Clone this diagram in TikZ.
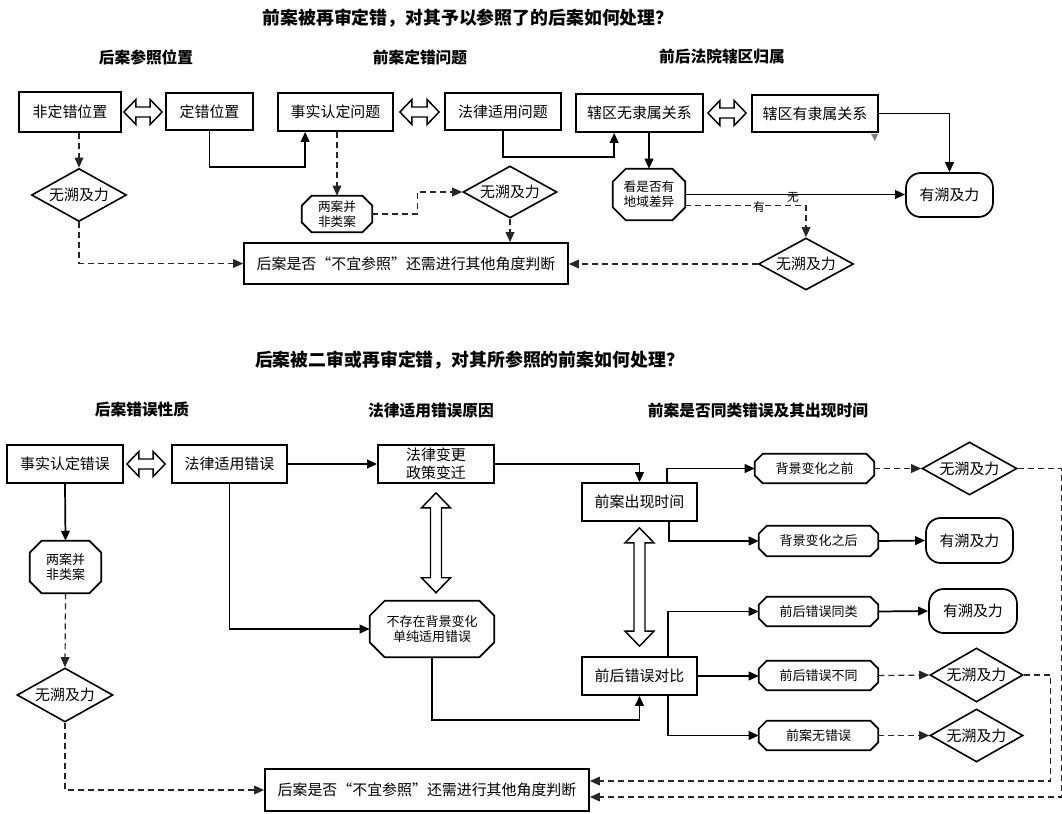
\documentclass[tikz,border=0pt]{standalone}
\usepackage{fontspec}
\setmainfont{Noto Sans CJK SC}
\usetikzlibrary{calc,arrows.meta,shapes.geometric}
\newcommand\octo[2]{\draw[line width=1.3pt] ($(#1.north west)+(#2,0)$) -- ($(#1.north east)+(-#2,0)$) -- ($(#1.north east)+(0,#2)$) -- ($(#1.south east)+(0,-#2)$) -- ($(#1.south east)+(-#2,0)$) -- ($(#1.south west)+(#2,0)$) -- ($(#1.south west)+(0,-#2)$) -- ($(#1.north west)+(0,#2)$) -- cycle;}
\newcommand\hdbl[2]{\draw[dbl] (#1) -- ($(#1)+(12,-12.5)$) -- ($(#1)+(12,-5)$) -- ($(#2)+(-12,-5)$) -- ($(#2)+(-12,-12.5)$) -- (#2) -- ($(#2)+(-12,12.5)$) -- ($(#2)+(-12,5)$) -- ($(#1)+(12,5)$) -- ($(#1)+(12,12.5)$) -- cycle;}
\newcommand\vdbl[2]{\draw[dbl] (#1) -- ($(#1)+(-14.5,15)$) -- ($(#1)+(-5.5,15)$) -- ($(#2)+(-5.5,-15)$) -- ($(#2)+(-14.5,-15)$) -- (#2) -- ($(#2)+(14.5,-15)$) -- ($(#2)+(5.5,-15)$) -- ($(#1)+(5.5,15)$) -- ($(#1)+(14.5,15)$) -- cycle;}
\begin{document}
\begin{tikzpicture}[x=0.75pt,y=-0.75pt,
  every node/.style={font=\fontsize{11.2pt}{13.5pt}\selectfont},
  box/.style={draw, line width=1.3pt, inner sep=0pt, align=center},
  sz/.style 2 args={minimum width=#1*0.75pt, minimum height=#2*0.75pt},
  dia/.style={draw, diamond, aspect=1.8, line width=1.2pt, inner sep=0pt},
  oct/.style={inner sep=0pt, align=center},
  rnd/.style={draw, line width=1.3pt, rounded corners=11pt, inner sep=0pt},
  arr/.style={line width=1.3pt, -{Triangle[length=7.5pt,width=6.5pt]}},
  darr/.style={line width=0.9pt, draw=black!85, dash pattern=on 4.5pt off 3pt, -{Triangle[length=7.5pt,width=6.5pt]}},
  title/.style={font=\fontsize{13.4pt}{16pt}\selectfont\bfseries},
  head/.style={font=\fontsize{11.8pt}{14pt}\selectfont\bfseries},
  small/.style={font=\fontsize{9.5pt}{11.3pt}\selectfont},
  mid/.style={font=\fontsize{9.75pt}{11.5pt}\selectfont},
  tiny/.style={font=\fontsize{8.8pt}{10pt}\selectfont},
  dbl/.style={line width=1.1pt, fill=white, line join=miter}
]
\useasboundingbox (0,0) rectangle (1062,813);

% ---------- top ----------
\node[title] (ti1) at (468,18) {前案被再审定错，对其予以参照了的后案如何处理？};
\node[head] (h1) at (146,57) {后案参照位置};
\node[head] (h2) at (420,57) {前案定错问题};
\node[head] (h3) at (722,57) {前后法院辖区归属};

\node[box,sz={102}{40}] (a1) at (70,112) {非定错位置};
\node[box,sz={87}{37}] (a2) at (209.5,111.5) {定错位置};
\node[box,sz={115}{38}] (a3) at (335.5,112) {事实认定问题};
\node[box,sz={116}{37}] (a4) at (503,111.5) {法律适用问题};
\node[box,sz={127}{38}] (a5) at (639.5,113) {辖区无隶属关系};
\node[box,sz={126}{37}] (a6) at (815,113.5) {辖区有隶属关系};
\fill[gray] (871,134) -- (878,134) -- (875,141) -- cycle;
\node[dia,sz={95}{53}] (d1) at (79,195) {无溯及力};
\node[oct,small,sz={70}{36}] (o1) at (337,214) {两案并\\非类案};
\octo{o1}{10}
\node[dia,sz={94}{52}] (d2) at (510,192) {无溯及力};
\node[box,sz={324}{41}] (r1) at (406,263.5) {后案是否“不宜参照”还需进行其他角度判断};
\node[oct,small,sz={72}{51}] (o2) at (649,194.5) {看是否有\\地域差异};
\octo{o2}{13}
\node[rnd,sz={87}{44}] (e1) at (949.5,195) {有溯及力};
\node[dia,sz={95}{52}] (d3) at (806,264) {无溯及力};

\coordinate (p1) at ($(a1.east)+(2,0)$);
\coordinate (p2) at ($(a2.west|-a1.east)+(-3,0)$);
\hdbl{p1}{p2}
\coordinate (p3) at ($(a3.east)+(6,0)$);
\coordinate (p4) at ($(a4.west|-a3.east)+(-5,0)$);
\hdbl{p3}{p4}
\coordinate (p5) at ($(a5.east)+(4,0)$);
\coordinate (p6) at ($(a6.west|-a5.east)+(-5,0)$);
\hdbl{p5}{p6}

\draw[darr] (a1.south -| d1.north) -- (d1.north);
\draw[darr] (d1.south) |- (r1.west);
\draw[arr] (a2.south) -- ++(0,36) -| ($(a3.south west)+(28,0)$);
\draw[darr] (a3.south -| o1.north) -- (o1.north);
\draw[darr] (o1.east) -- ++(45,0) |- (d2.west);
\draw[darr] (d2.south) -- (d2.south |- r1.north);
\draw[arr] (a4.south) -- ++(0,26) -| ($(a5.south west)+(39,0)$);
\draw[arr] (a5.south -| o2.north) -- (o2.north);
\draw[arr] (o2.east) -- node[tiny,pos=0.49,yshift=-2pt]{无} (o2.east -| e1.west);
\draw[darr] ($(o2.east)+(0,11)$) -| (d3.north);
\node[tiny] (lyou) at (759,207) {有};
\draw[darr] (d3.west) -- (d3.west -| r1.east);
\draw[arr] (a6.east) -| (e1.north);

% ---------- bottom ----------
\node[title] (ti2) at (469.5,360) {后案被二审或再审定错，对其所参照的前案如何处理？};
\node[head] (h4) at (142,409) {后案错误性质};
\node[head] (h5) at (431,411) {法律适用错误原因};
\node[head] (h6) at (758,410) {前案是否同类错误及其出现时间};

\node[box,sz={116}{38}] (b1) at (65,464) {事实认定错误};
\node[box,sz={115}{38}] (b2) at (229.5,464) {法律适用错误};
\node[box,sz={116}{38}] (b3) at (436,464) {法律变更\\政策变迁};
\node[oct,mid,sz={124}{56}] (b4) at (432,629) {不存在背景变化\\单纯适用错误};
\octo{b4}{15}
\node[box,sz={115}{38}] (b5) at (639.5,502) {前案出现时间};
\node[box,sz={115}{38}] (b6) at (639.5,676) {前后错误对比};
\node[oct,mid,sz={71}{52}] (o3) at (65.5,567) {两案并\\非类案};
\octo{o3}{12}
\node[dia,sz={96}{54}] (d4) at (65,695) {无溯及力};
\node[box,sz={324}{42}] (r2) at (427,790) {后案是否“不宜参照”还需进行其他角度判断};

\node[oct,mid,sz={119}{29}] (c1) at (814.5,468.5) {背景变化之前};
\node[oct,mid,sz={119}{30}] (c2) at (818.5,541) {背景变化之后};
\node[oct,mid,sz={119}{29}] (c3) at (818.5,611.5) {前后错误同类};
\node[oct,mid,sz={119}{29}] (c4) at (818.5,675.5) {前后错误不同};
\node[oct,mid,sz={119}{29}] (c5) at (818.5,735.5) {前案无错误};
\octo{c1}{8}\octo{c2}{8}\octo{c3}{8}\octo{c4}{8}\octo{c5}{8}

\node[dia,sz={95}{53}] (d5) at (969.5,468.5) {无溯及力};
\node[rnd,sz={87}{45}] (e2) at (969.5,540.5) {有溯及力};
\node[rnd,sz={88}{44}] (e3) at (973,611) {有溯及力};
\node[dia,sz={93}{54}] (d6) at (976.5,675) {无溯及力};
\node[dia,sz={93}{53}] (d7) at (976.5,735.5) {无溯及力};

\coordinate (q1) at ($(b1.east)+(3,0)$);
\coordinate (q2) at ($(b2.west|-b1.east)+(-6,0)$);
\hdbl{q1}{q2}
\coordinate (q3) at ($(b3.south)+(0,9)$);
\coordinate (q4) at ($(b3.south|-b4.north)+(0,-8)$);
\vdbl{q3}{q4}
\coordinate (q5) at ($(b5.south)+(0,6)$);
\coordinate (q6) at ($(b6.north)+(0,-10)$);
\vdbl{q5}{q6}

\draw[arr] (b1.south) -- (o3.north);
\draw[darr] (o3.south) -- (d4.north);
\draw[darr] (d4.south) |- (r2.west);
\draw[arr] (b2.east) -- (b3.west);
\draw[arr] (b3.east) -| (b5.north);
\draw[arr] (b2.south) |- (b4.west);
\draw[arr] (b4.south) -- ++(0,63) -| (b6.south);
\draw[arr] ($(b5.north east)+(-31,0)$) |- (c1.west);
\draw[arr] ($(b5.south east)+(-29,0)$) |- (c2.west);
\draw[arr] ($(b6.north east)+(-30,0)$) |- (c3.west);
\draw[arr] (b6.east) -- (b6.east -| c4.west);
\draw[arr] ($(b6.south east)+(-30,0)$) |- (c5.west);
\draw[darr] (c1.east) -- (d5.west);
\draw[arr] (c2.east) -- (e2.west);
\draw[arr] (c3.east) -- (e3.west);
\draw[darr] (c4.east) -- (d6.west);
\draw[darr] (c5.east) -- (d7.west);
\draw[darr] (d5.east) -- ++(44,0) |- ($(r2.east)+(0,7)$);
\draw[darr] (d6.east) -- ++(27,0) |- ($(r2.east)+(0,-9)$);
\end{tikzpicture}
\end{document}
